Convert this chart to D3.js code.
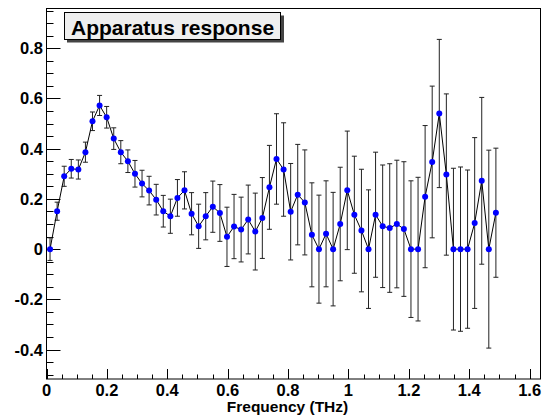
<!DOCTYPE html>
<html>
<head>
    <meta charset="UTF-8">
    <title>Apparatus response</title>
    <script src="https://d3js.org/d3.v7.min.js"></script>
    <style>
        body { margin: 0; background: #fff; }
        text { font-family: "Liberation Sans", Arial, Helvetica, sans-serif; font-weight: bold; }
    </style>
</head>
<body>
    <div id="chart"></div>
    <script>
        // bin centres (THz)
        var freq = [0.0117, 0.0352, 0.0586, 0.0820, 0.1055, 0.1289, 0.1523, 0.1758,
                    0.1992, 0.2227, 0.2461, 0.2695, 0.2930, 0.3164, 0.3398, 0.3633,
                    0.3867, 0.4102, 0.4336, 0.4570, 0.4805, 0.5039, 0.5273, 0.5508,
                    0.5742, 0.5977, 0.6211, 0.6445, 0.6680, 0.6914, 0.7148, 0.7383,
                    0.7617, 0.7852, 0.8086, 0.8320, 0.8555, 0.8789, 0.9023, 0.9258,
                    0.9492, 0.9727, 0.9961, 1.0195, 1.0430, 1.0664, 1.0898, 1.1133,
                    1.1367, 1.1602, 1.1836, 1.2070, 1.2305, 1.2539, 1.2773, 1.3008,
                    1.3242, 1.3477, 1.3711, 1.3945, 1.4180, 1.4414, 1.4648, 1.4883];

        // response values
        var resp = [0.000, 0.151, 0.290, 0.320, 0.317, 0.386, 0.509, 0.572,
                    0.525, 0.440, 0.386, 0.350, 0.300, 0.261, 0.233, 0.197,
                    0.151, 0.131, 0.204, 0.234, 0.141, 0.091, 0.131, 0.169,
                    0.144, 0.049, 0.090, 0.078, 0.118, 0.070, 0.124, 0.246,
                    0.359, 0.317, 0.149, 0.217, 0.186, 0.057, 0.000, 0.061,
                    0.000, 0.100, 0.234, 0.137, 0.074, 0.000, 0.137, 0.091,
                    0.084, 0.100, 0.080, 0.000, 0.000, 0.209, 0.347, 0.540,
                    0.297, 0.000, 0.000, 0.000, 0.104, 0.272, 0.000, 0.145];

        // symmetric errors
        var err = [0.045, 0.036, 0.040, 0.037, 0.038, 0.040, 0.037, 0.040,
                   0.043, 0.043, 0.046, 0.045, 0.053, 0.053, 0.057, 0.061,
                   0.063, 0.068, 0.073, 0.074, 0.084, 0.088, 0.094, 0.102,
                   0.113, 0.118, 0.128, 0.129, 0.137, 0.153, 0.161, 0.167,
                   0.180, 0.186, 0.192, 0.200, 0.209, 0.207, 0.215, 0.211,
                   0.226, 0.226, 0.236, 0.233, 0.244, 0.236, 0.249, 0.244,
                   0.256, 0.254, 0.268, 0.272, 0.286, 0.283, 0.302, 0.295,
                   0.321, 0.322, 0.327, 0.315, 0.340, 0.332, 0.394, 0.257];

        // axis ticks and labels
        var xTicks = [0, 0.2, 0.4, 0.6, 0.8, 1.0, 1.2, 1.4, 1.6];
        var xTickLabels = ["0", "0.2", "0.4", "0.6", "0.8", "1", "1.2", "1.4", "1.6"];
        var yTicks = [-0.4, -0.2, 0, 0.2, 0.4, 0.6, 0.8];
        var yTickLabels = ["-0.4", "-0.2", "0", "0.2", "0.4", "0.6", "0.8"];
        var xDomain = [0, 1.636];
        var yDomain = [-0.517, 0.958];

        var data = freq.map(function(f, i) { return {x: f, y: resp[i], e: err[i]}; });

        var W = 544, H = 416;
        var pLeft = 46.5, pRight = 540.5, pTop = 8.5, pBottom = 379;

        var x = d3.scaleLinear().domain(xDomain).range([pLeft, pRight]);
        var y = d3.scaleLinear().domain(yDomain).range([pBottom, pTop]);

        var svg = d3.select("#chart")
            .append("svg")
            .attr("width", W)
            .attr("height", H);

        svg.append("rect").attr("width", W).attr("height", H).attr("fill", "#fff");

        // frame
        svg.append("rect")
            .attr("x", pLeft).attr("y", pTop)
            .attr("width", pRight - pLeft).attr("height", pBottom - pTop)
            .attr("fill", "none").attr("stroke", "#000").attr("stroke-width", 1);

        // x axis (ticks point up, minor every 0.05)
        var xMinor = d3.range(0, 33).map(function(k) { return k * 0.05; });
        svg.append("g").selectAll("line")
            .data(xMinor)
            .enter().append("line")
            .attr("x1", function(d) { return Math.round(x(d)) + 0.5; })
            .attr("x2", function(d) { return Math.round(x(d)) + 0.5; })
            .attr("y1", pBottom)
            .attr("y2", function(d, i) { return i % 4 === 0 ? pBottom - 10 : pBottom - 4.5; })
            .attr("stroke", "#000");

        svg.append("g").selectAll("text")
            .data(xTicks)
            .enter().append("text")
            .attr("x", function(d) { return x(d); })
            .attr("y", 395.5)
            .attr("text-anchor", "middle")
            .attr("font-size", 16.5)
            .text(function(d, i) { return xTickLabels[i]; });

        // y axis (ticks point right)
        var yMinor = d3.range(-10, 20).map(function(k) { return k * 0.05; });
        svg.append("g").selectAll("line")
            .data(yMinor)
            .enter().append("line")
            .attr("x1", pLeft)
            .attr("x2", function(d) {
                var k = Math.round(d * 20);
                return (k % 4 === 0) ? pLeft + 14 : pLeft + 7;
            })
            .attr("y1", function(d) { return Math.round(y(d)) + 0.5; })
            .attr("y2", function(d) { return Math.round(y(d)) + 0.5; })
            .attr("stroke", "#000");

        svg.append("g").selectAll("text")
            .data(yTicks)
            .enter().append("text")
            .attr("x", 43)
            .attr("y", function(d) { return y(d); })
            .attr("dy", "0.36em")
            .attr("text-anchor", "end")
            .attr("font-size", 16.5)
            .text(function(d, i) { return yTickLabels[i]; });

        // axis title
        svg.append("text")
            .attr("x", 287.5)
            .attr("y", 411.5)
            .attr("text-anchor", "middle")
            .attr("font-size", 15.5)
            .text("Frequency (THz)");

        // error bars
        var bars = svg.append("g").attr("stroke", "#222").attr("stroke-width", 1);
        bars.selectAll(".eb")
            .data(data)
            .enter().append("line")
            .attr("x1", function(d) { return x(d.x); })
            .attr("x2", function(d) { return x(d.x); })
            .attr("y1", function(d) { return y(d.y - d.e); })
            .attr("y2", function(d) { return y(d.y + d.e); });
        bars.selectAll(".capT")
            .data(data)
            .enter().append("line")
            .attr("x1", function(d) { return x(d.x) - 2.5; })
            .attr("x2", function(d) { return x(d.x) + 2.5; })
            .attr("y1", function(d) { return y(d.y + d.e); })
            .attr("y2", function(d) { return y(d.y + d.e); });
        bars.selectAll(".capB")
            .data(data)
            .enter().append("line")
            .attr("x1", function(d) { return x(d.x) - 2.5; })
            .attr("x2", function(d) { return x(d.x) + 2.5; })
            .attr("y1", function(d) { return y(d.y - d.e); })
            .attr("y2", function(d) { return y(d.y - d.e); });

        // connecting line
        var line = d3.line()
            .x(function(d) { return x(d.x); })
            .y(function(d) { return y(d.y); });

        svg.append("path")
            .datum(data)
            .attr("d", line)
            .attr("fill", "none")
            .attr("stroke", "#000")
            .attr("stroke-width", 1);

        // markers
        svg.append("g").selectAll("circle")
            .data(data)
            .enter().append("circle")
            .attr("cx", function(d) { return x(d.x); })
            .attr("cy", function(d) { return y(d.y); })
            .attr("r", 3)
            .attr("fill", "#0000ff");

        // title box with shadow
        svg.append("rect")
            .attr("x", 67).attr("y", 15.5)
            .attr("width", 217).attr("height", 27)
            .attr("fill", "#444");
        svg.append("rect")
            .attr("x", 64.5).attr("y", 12.5)
            .attr("width", 216).attr("height", 27)
            .attr("fill", "#efefef")
            .attr("stroke", "#000").attr("stroke-width", 1);
        svg.append("text")
            .attr("x", 71)
            .attr("y", 34.5)
            .attr("font-size", 21)
            .text("Apparatus response");
    </script>
</body>
</html>
